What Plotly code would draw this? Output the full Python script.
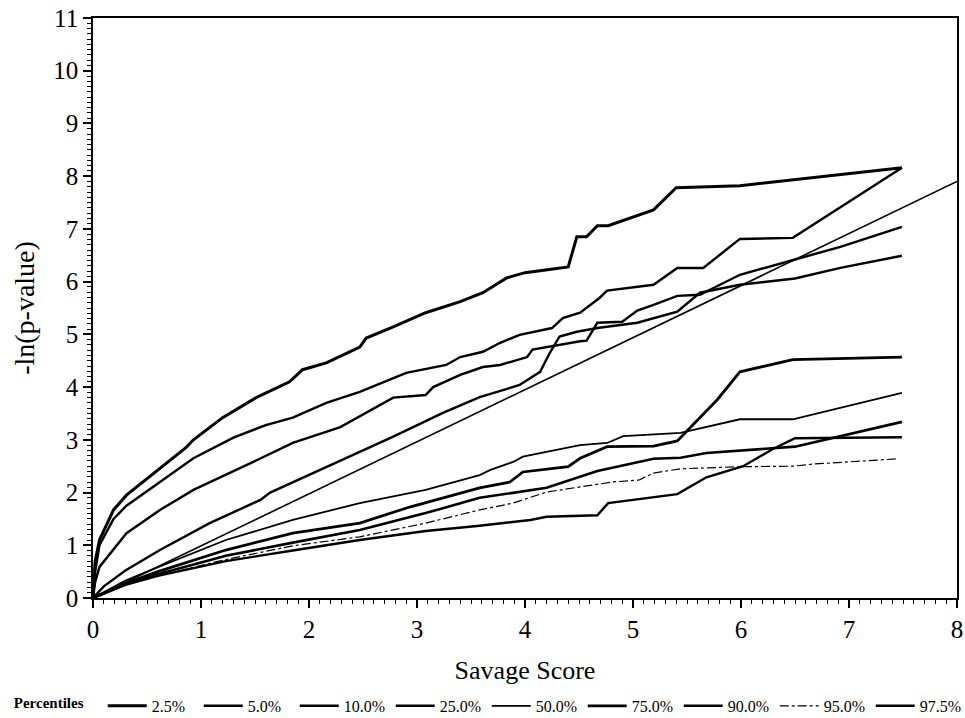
import plotly.graph_objects as go

# ---- data ----
p2_5_x = [0, 0.02, 0.06, 0.19, 0.31, 0.62, 0.86, 0.93, 1.2, 1.51, 1.82, 1.94, 2.16, 2.47, 2.53, 2.78, 3.08, 3.4, 3.61, 3.83, 4.0, 4.19, 4.4, 4.48, 4.57, 4.67, 4.77, 5.19, 5.4, 5.99, 7.49]
p2_5_y = [0, 0.7, 1.1, 1.67, 1.95, 2.45, 2.85, 3.0, 3.42, 3.8, 4.1, 4.33, 4.46, 4.76, 4.93, 5.14, 5.41, 5.62, 5.79, 6.07, 6.17, 6.22, 6.28, 6.85, 6.85, 7.06, 7.06, 7.36, 7.78, 7.82, 8.16]

p5_0_x = [0, 0.02, 0.06, 0.19, 0.31, 0.62, 0.93, 1.3, 1.6, 1.85, 2.16, 2.47, 2.9, 3.27, 3.4, 3.61, 3.77, 3.95, 4.25, 4.35, 4.51, 4.69, 4.76, 5.19, 5.41, 5.65, 5.99, 6.48, 7.49]
p5_0_y = [0, 0.5, 1.0, 1.5, 1.75, 2.2, 2.65, 3.04, 3.28, 3.42, 3.7, 3.91, 4.27, 4.42, 4.57, 4.67, 4.84, 4.99, 5.12, 5.31, 5.41, 5.69, 5.83, 5.94, 6.26, 6.26, 6.81, 6.83, 8.16]

p10_0_x = [0, 0.02, 0.06, 0.31, 0.62, 0.93, 1.39, 1.85, 2.29, 2.78, 3.08, 3.15, 3.4, 3.61, 3.77, 4.02, 4.07, 4.25, 4.51, 4.57, 4.67, 4.9, 5.04, 5.19, 5.41, 5.62, 5.99, 6.5, 6.92, 7.49]
p10_0_y = [0, 0.3, 0.59, 1.23, 1.67, 2.05, 2.49, 2.94, 3.24, 3.8, 3.85, 4.0, 4.23, 4.38, 4.42, 4.57, 4.71, 4.78, 4.87, 4.88, 5.22, 5.24, 5.45, 5.56, 5.73, 5.75, 6.13, 6.42, 6.66, 7.04]

p25_0_x = [0, 0.1, 0.3, 0.62, 1.08, 1.55, 1.64, 2.16, 2.78, 3.24, 3.58, 3.95, 4.14, 4.23, 4.32, 4.48, 4.67, 5.04, 5.41, 5.62, 5.99, 6.5, 6.92, 7.49]
p25_0_y = [0, 0.22, 0.52, 0.91, 1.42, 1.86, 2.0, 2.49, 3.06, 3.51, 3.81, 4.04, 4.29, 4.65, 4.96, 5.05, 5.12, 5.22, 5.43, 5.79, 5.94, 6.06, 6.26, 6.49]

p50_0_x = [0, 0.3, 0.62, 1.23, 1.85, 2.47, 3.08, 3.58, 3.68, 3.89, 3.98, 4.51, 4.76, 4.91, 5.44, 5.99, 6.48, 7.49]
p50_0_y = [0, 0.33, 0.6, 1.1, 1.48, 1.8, 2.05, 2.33, 2.43, 2.58, 2.68, 2.9, 2.94, 3.07, 3.13, 3.39, 3.39, 3.89]

p75_0_x = [0, 0.3, 0.6, 1.23, 1.85, 2.47, 2.94, 3.58, 3.86, 3.98, 4.4, 4.51, 4.76, 5.19, 5.41, 5.78, 5.99, 6.48, 7.49]
p75_0_y = [0, 0.28, 0.5, 0.91, 1.23, 1.42, 1.73, 2.09, 2.2, 2.39, 2.49, 2.65, 2.87, 2.88, 2.98, 3.76, 4.29, 4.52, 4.57]

p90_0_x = [0, 0.3, 0.6, 1.23, 1.85, 2.47, 3.08, 3.58, 4.2, 4.67, 5.19, 5.44, 5.68, 6.3, 6.5, 7.49]
p90_0_y = [0, 0.26, 0.45, 0.8, 1.05, 1.29, 1.61, 1.9, 2.09, 2.41, 2.64, 2.66, 2.75, 2.83, 2.87, 3.34]

p95_0_x = [0, 0.3, 0.6, 1.23, 1.85, 2.47, 3.08, 3.58, 3.89, 4.2, 4.81, 5.06, 5.19, 5.44, 5.99, 6.48, 6.67, 7.45]
p95_0_y = [0, 0.25, 0.42, 0.73, 0.99, 1.16, 1.42, 1.67, 1.8, 2.01, 2.2, 2.24, 2.37, 2.45, 2.49, 2.5, 2.54, 2.64]

p97_5_x = [0, 0.3, 0.6, 1.23, 1.85, 2.47, 3.08, 3.58, 4.05, 4.2, 4.67, 4.77, 5.41, 5.68, 6.02, 6.3, 6.5, 7.49]
p97_5_y = [0, 0.25, 0.42, 0.7, 0.9, 1.1, 1.27, 1.37, 1.48, 1.54, 1.57, 1.8, 1.97, 2.29, 2.5, 2.83, 3.03, 3.05]

ref_x = [0, 8]
ref_y = [0, 7.9]

labels = ["2.5%", "5.0%", "10.0%", "25.0%", "50.0%", "75.0%", "90.0%", "95.0%", "97.5%"]
xs = [p2_5_x, p5_0_x, p10_0_x, p25_0_x, p50_0_x, p75_0_x, p90_0_x, p95_0_x, p97_5_x]
ys = [p2_5_y, p5_0_y, p10_0_y, p25_0_y, p50_0_y, p75_0_y, p90_0_y, p95_0_y, p97_5_y]
widths = [3, 2.4, 2.4, 2.4, 1.8, 2.8, 2.6, 1.2, 2.4]
dashes = ["solid", "solid", "solid", "solid", "solid", "solid", "solid", "dashdot", "solid"]

fig = go.Figure()
fig.add_trace(go.Scatter(x=ref_x, y=ref_y, mode="lines",
                         line=dict(color="black", width=1.6), showlegend=False))
for x, y, lab, w, d in zip(xs, ys, labels, widths, dashes):
    fig.add_trace(go.Scatter(x=x, y=y, mode="lines", name=lab,
                             line=dict(color="black", width=w, dash=d)))

serif = "Liberation Serif, Times New Roman, serif"
axis_common = dict(
    showgrid=False, zeroline=False, showline=True, linecolor="black",
    linewidth=1.6, mirror=True, ticks="outside", ticklen=8, tickwidth=1.6,
    tickcolor="black", tickfont=dict(family=serif, size=25, color="black"),
    minor=dict(dtick=0.1, ticks="outside", ticklen=4, tickwidth=1, tickcolor="black"),
    automargin=False,
)
fig.update_xaxes(range=[0, 8], dtick=1, tick0=0, ticklabelstandoff=0,
                 title=dict(text="Savage Score", font=dict(family=serif, size=26, color="black"),
                            standoff=19),
                 **axis_common)
fig.update_yaxes(range=[0, 11], dtick=1, tick0=0,
                 title=dict(text="-ln(p-value)", font=dict(family=serif, size=28, color="black"),
                            standoff=10),
                 **axis_common)

fig.update_layout(
    width=965, height=718,
    margin=dict(l=93, r=8, t=18, b=120, autoexpand=False),
    paper_bgcolor="white", plot_bgcolor="white",
    font=dict(family=serif, color="black"),
    legend=dict(
        orientation="h", x=-0.094, xanchor="left", y=-0.186, yanchor="middle",
        title=dict(text="<b>Percentiles</b>\u00a0\u00a0\u00a0", side="left",
                   font=dict(family=serif, size=15)),
        font=dict(family=serif, size=16), itemwidth=39,
        entrywidth=42, entrywidthmode="pixels", tracegroupgap=0,
    ),
)

fig.write_html("out.html")
